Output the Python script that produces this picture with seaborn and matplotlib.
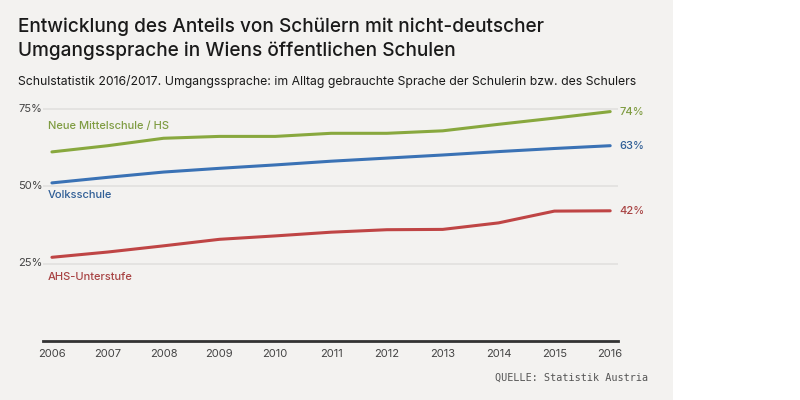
import matplotlib
matplotlib.use('Agg')
import matplotlib.pyplot as plt
import matplotlib.transforms as mtransforms
from matplotlib.patches import Rectangle
import pandas as pd
import seaborn as sns

years = [2006, 2007, 2008, 2009, 2010, 2011, 2012, 2013, 2014, 2015, 2016]
nms = [61, 63, 65.4, 66, 66, 67, 67, 67.8, 69.9, 71.9, 74]
volksschule = [51, 52.8, 54.5, 55.7, 56.8, 58, 59, 60, 61.1, 62.1, 63]
ahs = [27, 28.7, 30.7, 32.8, 33.9, 35.1, 35.9, 36, 38.1, 41.9, 42]

series_names = ['Neue Mittelschule / HS', 'Volksschule', 'AHS-Unterstufe']
series_values = [nms, volksschule, ahs]
end_labels = ['74%', '63%', '42%']
ytick_values = [25, 50, 75]
ytick_labels = ['25%', '50%', '75%']

colors = {
    'Neue Mittelschule / HS': '#88a83e',
    'Volksschule': '#3a72b5',
    'AHS-Unterstufe': '#bf4545',
}
label_colors = {
    'Neue Mittelschule / HS': '#7f9c42',
    'Volksschule': '#2f5e96',
    'AHS-Unterstufe': '#a84343',
}

rows = []
for name, vals in zip(series_names, series_values):
    for y, v in zip(years, vals):
        rows.append({'year': y, 'value': v, 'school': name})
data = pd.DataFrame(rows)

sns.set_style('white')
plt.rcParams['font.family'] = ['Inter', 'DejaVu Sans']

fig = plt.figure(figsize=(8, 4), dpi=100)
fig.patch.set_facecolor('white')
fig.patches.append(Rectangle((0, 0), 673 / 800, 1, transform=fig.transFigure,
                             facecolor='#f3f2f0', edgecolor='none', zorder=-10))

ax = fig.add_axes([43 / 800, 1 - 341 / 400, (618 - 43) / 800, (341 - 105.4) / 400])
ax.set_facecolor('none')

sns.lineplot(data=data, x='year', y='value', hue='school', palette=colors,
             linewidth=2.2, legend=False, ax=ax, zorder=3)

ax.set_xlim(2005.84, 2016.14)
ax.set_ylim(0, 76)
for s in ['top', 'right', 'left']:
    ax.spines[s].set_visible(False)
ax.spines['bottom'].set_color('#333333')
ax.spines['bottom'].set_linewidth(2)
ax.spines['bottom'].set_zorder(4)

for v in ytick_values:
    ax.axhline(v, color='#e2e1df', linewidth=1.2, zorder=1)

ax.set_xticks(years)
ax.set_xticklabels([str(y) for y in years], fontsize=8, color='#444444')
ax.tick_params(axis='x', length=0, pad=6)
ax.set_yticks([])
ax.set_xlabel('')
ax.set_ylabel('')

trans = mtransforms.blended_transform_factory(fig.transFigure, ax.transData)
for v, lab in zip(ytick_values, ytick_labels):
    ax.text(18 / 800, v, lab, transform=trans, fontsize=8, color='#444444',
            ha='left', va='center')

# series names next to where each line starts
label_pos = {'Neue Mittelschule / HS': 69.2, 'Volksschule': 47.2, 'AHS-Unterstufe': 20.8}
for name in series_names:
    ax.text(2006 - 0.07, label_pos[name], name, fontsize=8, color=label_colors[name],
            ha='left', va='center', fontweight='medium')

for name, vals, lab in zip(series_names, series_values, end_labels):
    ax.text(2016 + 0.17, vals[-1], lab, fontsize=8, color=label_colors[name],
            ha='left', va='center', fontweight='medium')

fig.text(18 / 800, 1 - 27 / 400, 'Entwicklung des Anteils von Schülern mit nicht-deutscher',
         fontsize=13.7, color='#1a1a1a', ha='left', va='center', fontweight='medium')
fig.text(18 / 800, 1 - 51 / 400, 'Umgangssprache in Wiens öffentlichen Schulen',
         fontsize=13.7, color='#1a1a1a', ha='left', va='center', fontweight='medium')
fig.text(18 / 800, 1 - 81 / 400,
         'Schulstatistik 2016/2017. Umgangssprache: im Alltag gebrauchte Sprache der Schulerin bzw. des Schulers',
         fontsize=8.8, color='#1a1a1a', ha='left', va='center')
fig.text(648 / 800, 1 - 378 / 400, 'QUELLE: Statistik Austria', fontsize=7.3,
         family='DejaVu Sans Mono', color='#555555', ha='right', va='center')

fig.savefig('out.png', dpi=100, facecolor=fig.get_facecolor())
